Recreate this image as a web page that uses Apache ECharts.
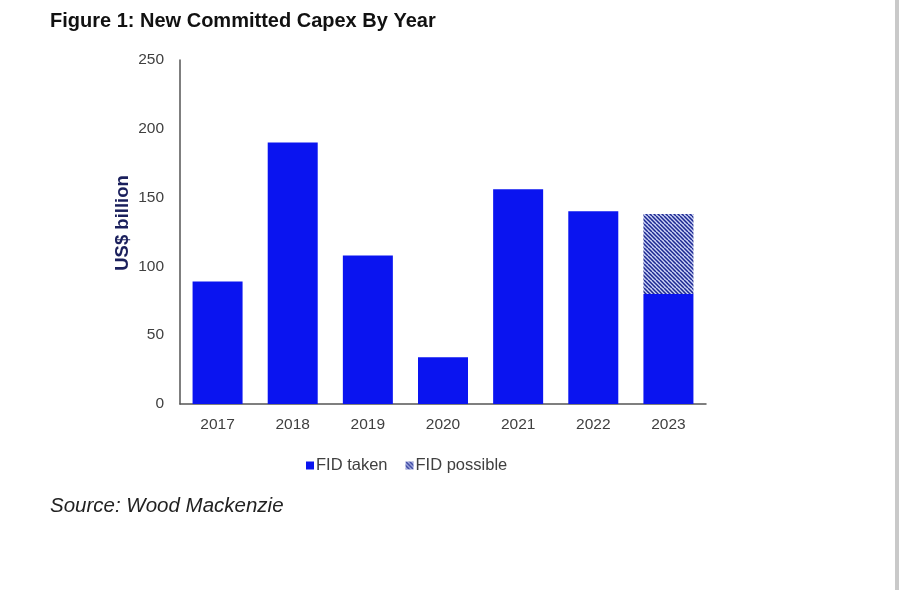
<!DOCTYPE html>
<html>
<head>
<meta charset="utf-8">
<script src="https://cdn.jsdelivr.net/npm/echarts@6/dist/echarts.min.js"></script>
<style>
html,body{margin:0;padding:0;background:#fff;}
#c{width:899px;height:590px;}
</style>
</head>
<body>
<div id="c"></div>
<script>
var categories = ['2017','2018','2019','2020','2021','2022','2023'];
var fidTaken = [89, 190, 108, 34, 156, 140, 80];
var fidPossible = [null, null, null, null, null, null, 58];
var yTicks = [0, 50, 100, 150, 200, 250];

function makeHatch(){
  var cv = document.createElement('canvas');
  cv.width = 8; cv.height = 8;
  var ctx = cv.getContext('2d');
  ctx.fillStyle = '#cdd4f6';
  ctx.fillRect(0,0,8,8);
  ctx.strokeStyle = '#1b2790';
  ctx.lineWidth = 1.5;
  ctx.beginPath();
  for (var k=-8;k<=16;k+=4){
    ctx.moveTo(k,0); ctx.lineTo(k+8,8);
  }
  ctx.stroke();
  return cv;
}
var hatch = {image: makeHatch(), repeat: 'repeat'};

var chart = echarts.init(document.getElementById('c'), null, {renderer:'canvas'});
chart.setOption({
  backgroundColor: '#ffffff',
  animation: false,
  title: [{
    text: 'Figure 1: New Committed Capex By Year',
    left: 45, top: 6,
    textStyle: {fontFamily:'Liberation Sans, Arial', fontWeight:'bold', fontSize:20, color:'#111'}
  },{
    text: 'Source: Wood Mackenzie',
    left: 45, top: 491,
    textStyle: {fontFamily:'Liberation Sans, Arial', fontStyle:'italic', fontWeight:'normal', fontSize:20.5, color:'#222'}
  }],
  grid: {left:180, right:193, top:60, bottom:186},
  legend: {
    bottom: 111, left: 301,
    itemWidth: 8, itemHeight: 8, itemGap: 18,
    textStyle: {fontFamily:'Liberation Sans, Arial', fontSize:16.5, color:'#404040', padding:[0,0,0,-3]},
    data: [{name:'FID taken', icon:'rect'}, {name:'FID possible', icon:'rect'}]
  },
  xAxis: {
    type: 'category',
    data: categories,
    axisLine: {lineStyle:{color:'#555', width:1.5}},
    axisTick: {show:false},
    axisLabel: {fontFamily:'Liberation Sans, Arial', fontSize:15.5, color:'#404040', margin:13}
  },
  yAxis: {
    type: 'value',
    min: yTicks[0], max: yTicks[yTicks.length-1], interval: 50,
    name: 'US$ billion',
    nameLocation: 'middle', nameGap: 48, nameMoveOverlap: false,
    nameTextStyle: {fontFamily:'Liberation Sans, Arial', fontWeight:'bold', fontSize:18.5, color:'#1a1f5c', padding:[0,0,0,18]},
    axisLine: {show:true, lineStyle:{color:'#555', width:1.5}},
    axisTick: {show:false},
    splitLine: {show:false},
    axisLabel: {fontFamily:'Liberation Sans, Arial', fontSize:15.5, color:'#404040', margin:16}
  },
  series: [{
    name: 'FID taken', type: 'bar', stack: 'a',
    data: fidTaken, barWidth: 50,
    itemStyle: {color:'#0a14f0'}
  },{
    name: 'FID possible', type: 'bar', stack: 'a',
    data: fidPossible, barWidth: 50,
    itemStyle: {color: hatch}
  }],
  graphic: [{
    type:'rect', shape:{x:895, y:0, width:4, height:590},
    style:{fill:'#c9c9c9'}, silent:true
  }]
});
</script>
</body>
</html>
